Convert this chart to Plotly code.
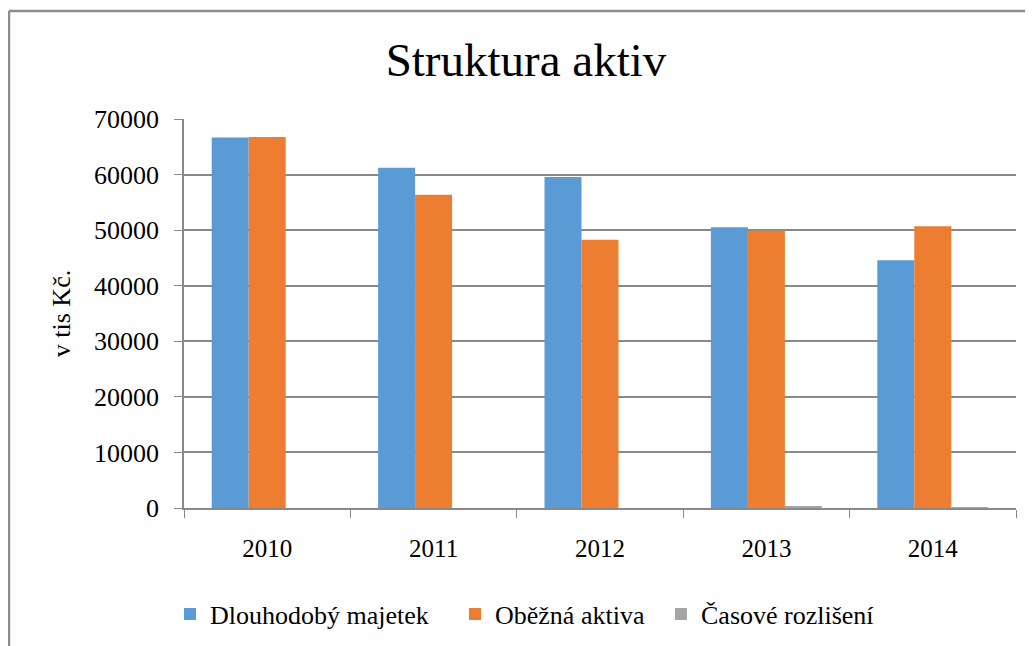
import plotly.graph_objects as go

years = ["2010", "2011", "2012", "2013", "2014"]
dlouhodoby = [66650, 61250, 59550, 50500, 44600]
obezna = [66750, 56350, 48250, 49900, 50700]
casove = [0, 0, 0, 250, 180]

series_names = ["Dlouhodobý majetek", "Oběžná aktiva", "Časové rozlišení"]
colors = ["#5B9BD5", "#ED7D31", "#A5A5A5"]
y_ticks = [0, 10000, 20000, 30000, 40000, 50000, 60000, 70000]

FONT = "Liberation Serif"

OFF = 8  # page body margin
W, H = 1033 - OFF, 646 - OFF
L, T = 184 - OFF, 119 - OFF
R = (OFF + W) - 1016
B = (OFF + H) - 508
pw, ph = W - L - R, H - T - B

def sx(px):
    return (px - 184) / pw

def sy(py):
    return (508 - py) / ph

legend_ids = ["legend", "legend2", "legend3"]
legend_left_px = [170, 455, 661]

fig = go.Figure()
for name, vals, col, lid in zip(series_names, [dlouhodoby, obezna, casove], colors, legend_ids):
    fig.add_trace(go.Bar(x=years, y=vals, name=name, legend=lid,
                         marker=dict(color=col, line=dict(width=0))))

bx, by = sx(9), sy(11)

legend_common = dict(orientation="h", xanchor="left", y=sy(614), yanchor="middle",
                     font=dict(size=26, family=FONT, color="black"), itemwidth=30,
                     bgcolor="rgba(0,0,0,0)", borderwidth=0)

fig.update_layout(
    width=W, height=H,
    margin=dict(l=L, r=R, t=T, b=B, pad=0, autoexpand=False),
    paper_bgcolor="white", plot_bgcolor="white",
    font=dict(family=FONT, size=26, color="black"),
    title=dict(text="Struktura aktiv", x=sx(526), xref="paper", xanchor="center",
               y=1 - (60 - OFF) / H, yanchor="middle", font=dict(size=47, family=FONT, color="black")),
    barmode="group", bargap=0.333, bargroupgap=0,
    showlegend=True,
    legend=dict(x=sx(legend_left_px[0]), **legend_common),
    legend2=dict(x=sx(legend_left_px[1]), **legend_common),
    legend3=dict(x=sx(legend_left_px[2]), **legend_common),
    xaxis=dict(type="category", showline=True, linecolor="#898989", linewidth=1.5,
               ticks="outside", tickson="boundaries", ticklen=8, tickcolor="#898989",
               tickfont=dict(size=25, family=FONT, color="black"), ticklabelstandoff=17,
               showgrid=False, automargin=False),
    yaxis=dict(range=[0, 70000], tickvals=y_ticks, ticktext=[str(v) for v in y_ticks],
               showline=True, linecolor="#898989", linewidth=1.5,
               ticks="outside", ticklen=8, tickcolor="#898989",
               gridcolor="#898989", gridwidth=1.5, zeroline=False, automargin=False,
               tickfont=dict(size=26, family=FONT, color="black"), ticklabelstandoff=10,
               title=dict(text="v tis Kč.", font=dict(size=26, family=FONT, color="black"), standoff=16)),
    shapes=[
        dict(type="line", xref="paper", yref="paper", x0=bx, x1=bx, y0=-0.5, y1=by,
             line=dict(color="#8C8C8C", width=2.5)),
        dict(type="line", xref="paper", yref="paper", x0=bx, x1=1.2, y0=by, y1=by,
             line=dict(color="#8C8C8C", width=2.5)),
    ],
)

fig.write_html("out.html")
